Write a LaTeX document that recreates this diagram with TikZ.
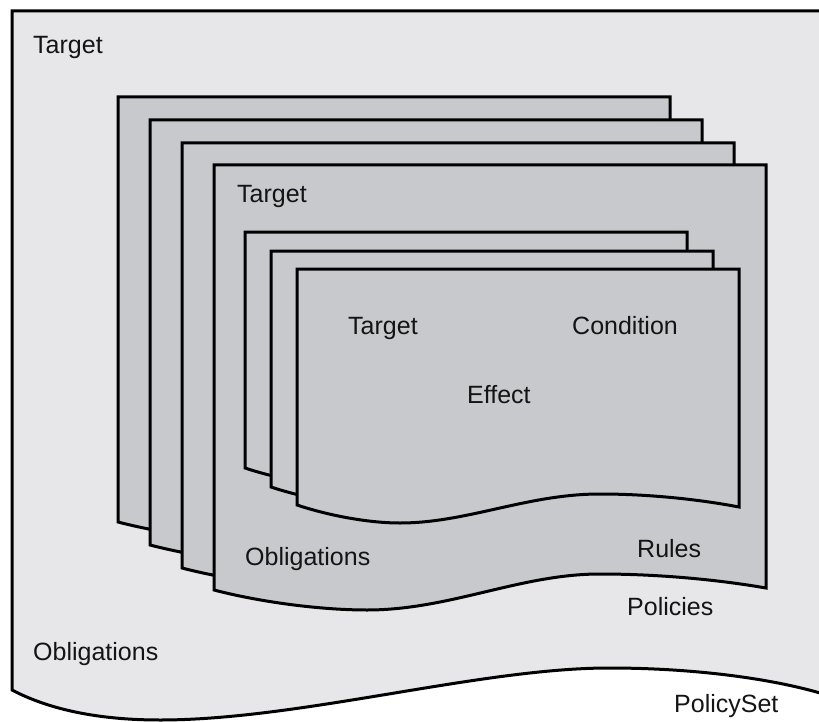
\documentclass[tikz,border=0pt]{standalone}
\usepackage{fontspec}
\setmainfont{Liberation Sans}
\definecolor{outergray}{HTML}{E7E7E9}
\definecolor{innergray}{HTML}{C7C9CC}
\newcommand\lblfont{\fontsize{25}{30}\selectfont}
\tikzset{
  outerpage/.style={fill=outergray, draw=black, line width=3pt, line join=miter},
  innerpage/.style={fill=innergray, draw=black, line width=3pt, line join=miter},
  lbl/.style={font=\lblfont, anchor=base west, inner sep=0pt, text=black!92},
  policypage/.pic={
    \path[innerpage] (0,0) -- (552,0) -- (552,423)
      .. controls (506,415) and (446,409) .. (386,409)
      .. controls (306,409) and (236,445) .. (153,445)
      .. controls (106,445) and (46,437) .. (0,425) -- cycle;
  },
  rulepage/.pic={
    \path[innerpage] (0,0) -- (442,0) -- (442,238)
      .. controls (400,230) and (350,225) .. (303,225)
      .. controls (230,225) and (170,254) .. (103,254)
      .. controls (70,254) and (30,246) .. (0,236) -- cycle;
  }
}
\begin{document}
\begin{tikzpicture}[x=1pt,y=-1pt]
\useasboundingbox (0,0) rectangle (819,722);
\fill[white] (0,0) rectangle (819,722);
\clip (0,0) rectangle (819,722);
% PolicySet page
\path[outerpage] (12,11) -- (830,11) -- (830,696)
  .. controls (780,680) and (700,668) .. (609,668)
  .. controls (480,668) and (300,720) .. (160,720)
  .. controls (100,720) and (50,710) .. (12,690) -- cycle;
% Policy pages
\pic at (118,97) {policypage};
\pic at (150,120) {policypage};
\pic at (182,143) {policypage};
\pic at (214,165) {policypage};
% Rule pages
\pic at (245,232) {rulepage};
\pic at (271,251) {rulepage};
\pic at (297,269) {rulepage};
% Labels
\node[lbl] (pstarget) at (33,54) {Target};
\node[lbl] (psobl) at (33,660) {Obligations};
\node[lbl] (psname) at (674,712) {PolicySet};
\node[lbl] (ptarget) at (237,203) {Target};
\node[lbl] (pobl) at (245,565) {Obligations};
\node[lbl] (pname) at (627,615) {Policies};
\node[lbl] (rtarget) at (348,334) {Target};
\node[lbl] (rcond) at (572,334) {Condition};
\node[lbl] (reffect) at (467,403) {Effect};
\node[lbl] (rname) at (637,557) {Rules};
\end{tikzpicture}
\end{document}
